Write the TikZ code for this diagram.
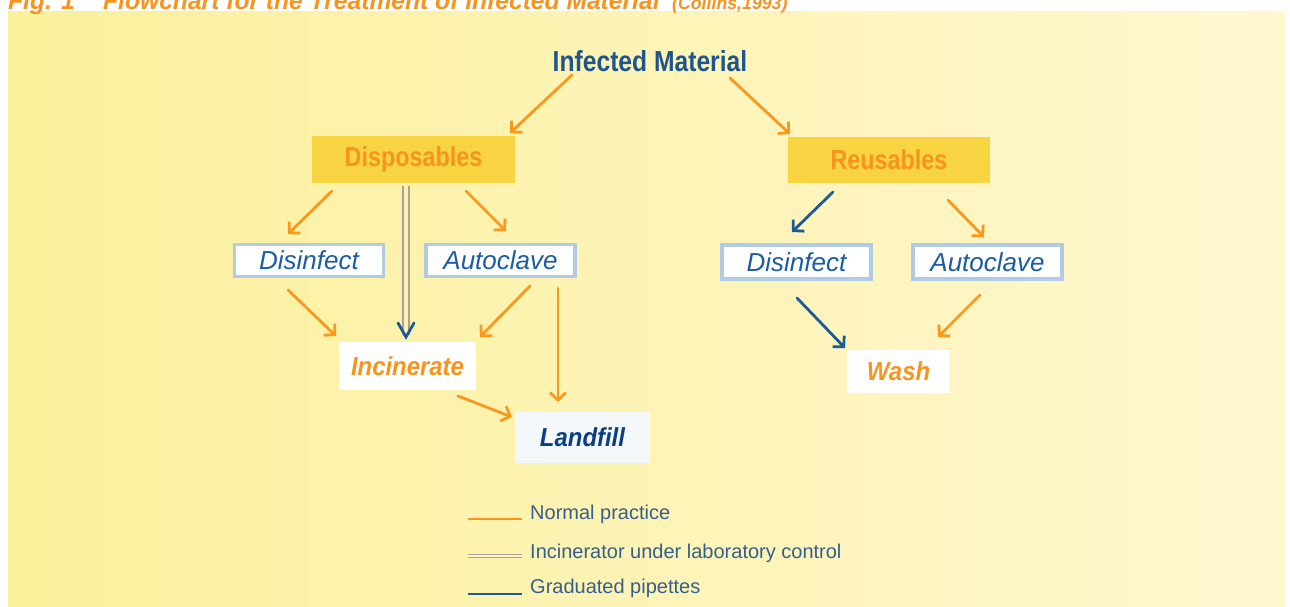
\documentclass[tikz,border=0pt]{standalone}
\usepackage{fontspec}
\setmainfont{Liberation Sans}
\newfontfamily\condsans[FakeStretch=0.85]{Liberation Sans}
\newfontfamily\italsans[FakeStretch=0.92]{Liberation Sans}
\newfontfamily\capsans[FakeStretch=0.985]{Liberation Sans}
\usetikzlibrary{arrows.meta,calc}

\definecolor{panelL}{RGB}{251,240,155}
\definecolor{panelR}{RGB}{255,247,208}
\definecolor{boxgold}{RGB}{248,212,66}
\definecolor{txtorange}{RGB}{247,148,29}
\definecolor{arrorange}{RGB}{248,152,28}
\definecolor{txtblue}{RGB}{28,92,160}
\definecolor{arrblue}{RGB}{30,90,150}
\definecolor{darkblue}{RGB}{12,62,130}
\definecolor{headblue}{RGB}{30,85,140}
\definecolor{frameblue}{RGB}{176,203,227}
\definecolor{pipegray}{RGB}{172,162,148}
\definecolor{legendblue}{RGB}{55,95,140}
\definecolor{landwhite}{RGB}{244,248,251}

\begin{document}
\begin{tikzpicture}[x=1pt,y=-1pt,
  mainbox/.style={fill=boxgold, inner sep=0pt, text=txtorange,
    font=\condsans\bfseries\fontsize{27.5}{30}\selectfont},
  procbox/.style={fill=white, draw=frameblue, line width=3.5pt, inner sep=0pt,
    text=txtblue, minimum width=149, minimum height=32,
    font=\itshape\fontsize{26}{28}\selectfont},
  endbox/.style={fill=white, inner sep=0pt,
    font=\italsans\bfseries\itshape\fontsize{26}{28}\selectfont},
  arr/.style={draw=arrorange, line width=2.8pt, line cap=round,
    -{Straight Barb[length=7.5pt,width=16pt]}},
  barr/.style={arr, draw=arrblue},
  pipe/.style={draw=pipegray, double=panelL!60!panelR, double distance=3.5pt, line width=1.8pt},
  legendtxt/.style={anchor=base west, inner sep=0pt, text=legendblue,
    font=\fontsize{20}{22}\selectfont},
  titletxt/.style={anchor=base west, inner sep=0pt, text=txtorange,
    font=\capsans\bfseries\itshape\fontsize{25}{28}\selectfont}
]
\useasboundingbox (0,0) rectangle (1290,607);
\fill[white] (0,0) rectangle (1290,607);
\shade[left color=panelL, right color=panelR] (8,12) rectangle (1285,607);

% caption line, its upper half cut by the page edge
\begin{scope}
  \clip (0,0) rectangle (1290,607);
  \node[titletxt] (figno) at (8,10) {Fig. 1};
  \node[titletxt] (figtitle) at (103,10) {Flowchart for the Treatment of Infected Material};
  \node[titletxt, font=\capsans\bfseries\itshape\fontsize{18}{20}\selectfont] (figsrc) at (672,10) {(Collins,1993)};
\end{scope}

% nodes
\node[inner sep=0pt, text=headblue, font=\condsans\bfseries\fontsize{29}{31}\selectfont] (inf) at (650,61) {Infected Material};
\node[mainbox, minimum width=203, minimum height=47] (disp) at (413.5,159.5) {Disposables};
\node[mainbox, minimum width=202, minimum height=46] (reus) at (889,160) {Reusables};
\node[procbox] (disL) at (309,260.5) {Disinfect};
\node[procbox] (autL) at (500.5,260.5) {Autoclave};
\node[procbox, minimum height=34] (disR) at (796.5,262) {Disinfect};
\node[procbox, minimum height=34] (autR) at (987.5,262) {Autoclave};
\node[endbox, text=txtorange, minimum width=137, minimum height=48] (inc) at (407.5,366) {Incinerate};
\node[endbox, fill=landwhite, text=darkblue, minimum width=135, minimum height=51] (land) at (582.5,437.5) {Landfill};
\node[endbox, text=txtorange, minimum width=103, minimum height=43] (wash) at (898.5,371.5) {Wash};

% connectors
\draw[arr] ($(inf)+(-78,14)$) -- ($(disp)+(96.5,-26.5)$);
\draw[arr] ($(inf)+(80,17)$) -- ($(reus)+(-99,-26)$);
\draw[arr] ($(disp)+(-81.5,31.5)$) -- ($(disL)+(-21,-26.5)$);
\draw[arr] ($(disp)+(52.5,31.5)$) -- ($(autL)+(5.5,-29.5)$);
\draw[pipe] ($(disp)+(-7.5,26.5)$) -- ($(inc)+(-1.5,-31)$);
\draw[draw=arrblue, line width=2.8pt, line cap=round, line join=miter]
  ($(inc)+(-9.5,-43)$) -- ($(inc)+(-1.5,-29)$) -- ($(inc)+(6.5,-43)$);
\draw[arr] ($(disL)+(-21,29.5)$) -- ($(inc)+(-71.5,-30)$);
\draw[arr] ($(autL)+(29.5,25.5)$) -- ($(inc)+(72.5,-29)$);
\draw[arr] ($(autL)+(57.5,27.5)$) -- ($(land)+(-24.5,-35.5)$);
\draw[arr] ($(inc)+(50.5,30)$) -- ($(land)+(-70.5,-20.5)$);
\draw[barr] ($(reus)+(-56,32)$) -- ($(disR)+(-4.5,-30)$);
\draw[arr] ($(reus)+(59,40)$) -- ($(autR)+(-3.5,-25)$);
\draw[barr] ($(disR)+(0.5,36)$) -- ($(wash)+(-53.5,-23.5)$);
\draw[arr] ($(autR)+(-7.5,33)$) -- ($(wash)+(39.5,-34.5)$);

% key
\node[legendtxt] (lg1) at (530,519) {Normal practice};
\node[legendtxt] (lg2) at (530,558) {Incinerator under laboratory control};
\node[legendtxt] (lg3) at (530,593) {Graduated pipettes};
\draw[draw=arrorange, line width=2.2pt] ($(lg1.base west)+(-62,0)$) -- ($(lg1.base west)+(-8,0)$);
\draw[draw=pipegray, double=panelR!70!panelL, double distance=1.5pt, line width=1.2pt] ($(lg2.base west)+(-62,-2)$) -- ($(lg2.base west)+(-8,-2)$);
\draw[draw=arrblue, line width=2.8pt] ($(lg3.base west)+(-62,1)$) -- ($(lg3.base west)+(-8,1)$);
\end{tikzpicture}
\end{document}
